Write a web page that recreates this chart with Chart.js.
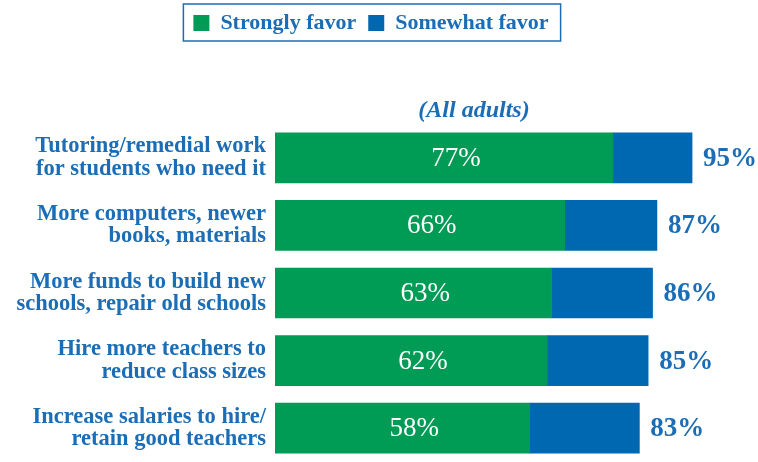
<!DOCTYPE html>
<html>
<head>
<meta charset="utf-8">
<script src="https://cdn.jsdelivr.net/npm/chart.js@4"></script>
<style>
  html, body { margin: 0; padding: 0; background: #fff; }
  #wrap { width: 758px; height: 462px; }
</style>
</head>
<body>
<div id="wrap"><canvas id="c" width="758" height="462"></canvas></div>
<script>
'use strict';

const categories = [
  ['Tutoring/remedial work', 'for students who need it'],
  ['More computers, newer', 'books, materials'],
  ['More funds to build new', 'schools, repair old schools'],
  ['Hire more teachers to', 'reduce class sizes'],
  ['Increase salaries to hire/', 'retain good teachers'],
];
const strongly = [77, 66, 63, 62, 58];
const somewhat = [18, 21, 23, 23, 25];
const seriesNames = ['Strongly favor', 'Somewhat favor'];
const subtitle = '(All adults)';

const C = {
  green: '#009b55',
  blue:  '#0067b1',
  text:  '#1b6db5',
};
const FONT = "'Liberation Serif', 'Times New Roman', serif";

// legend: taller box so the bars start lower, nudged right, framed
const legendBox = {
  id: 'legendBox',
  beforeInit(chart) {
    const fit = chart.legend.fit;
    chart.legend.fit = function () {
      fit.call(this);
      this.height = 124;
    };
  },
  afterUpdate(chart) {
    chart.legend.left += 28;
    chart.legend.adjustHitBoxes();
  },
  afterDraw(chart) {
    const boxes = chart.legend.legendHitBoxes;
    if (!boxes || !boxes.length) return;
    const first = boxes[0], last = boxes[boxes.length - 1];
    const ctx = chart.ctx;
    ctx.save();
    ctx.strokeStyle = C.text;
    ctx.lineWidth = 1.5;
    ctx.strokeRect(first.left - 10, 4, last.left + last.width - first.left + 22, 37);
    ctx.restore();
  },
};

// percent labels: share inside the green bar, total after the bar
const valueLabels = {
  id: 'valueLabels',
  afterDatasetsDraw(chart) {
    const ctx = chart.ctx;
    const x = chart.scales.x;
    const meta = chart.getDatasetMeta(0);
    ctx.save();
    ctx.textBaseline = 'middle';
    meta.data.forEach((bar, i) => {
      ctx.font = `27px ${FONT}`;
      ctx.fillStyle = '#fff';
      ctx.textAlign = 'center';
      ctx.fillText(strongly[i] + '%', (bar.x + bar.base) / 2 + 12, bar.y + 1);
      const total = strongly[i] + somewhat[i];
      ctx.font = `bold 27px ${FONT}`;
      ctx.fillStyle = C.text;
      ctx.textAlign = 'left';
      ctx.fillText(total + '%', x.getPixelForValue(total) + 11, bar.y + 1);
    });
    // subtitle above the bars
    const a = chart.chartArea;
    ctx.font = `italic bold 24px ${FONT}`;
    ctx.fillStyle = C.text;
    ctx.textAlign = 'center';
    ctx.fillText(subtitle, a.left + 199, a.top - 13);
    ctx.restore();
  },
};

new Chart(document.getElementById('c'), {
  type: 'bar',
  data: {
    labels: categories,
    datasets: [
      { label: seriesNames[0], data: strongly, backgroundColor: C.green },
      { label: seriesNames[1], data: somewhat, backgroundColor: C.blue },
    ],
  },
  options: {
    indexAxis: 'y',
    responsive: false,
    animation: false,
    layout: { padding: { right: 44 } },
    datasets: { bar: { barThickness: 50, borderWidth: 0 } },
    plugins: {
      legend: {
        position: 'top',
        labels: {
          color: C.text,
          font: { family: FONT, size: 22, weight: 'bold' },
          boxWidth: 16,
          boxHeight: 16,
          padding: 12,
        },
      },
      tooltip: { enabled: false },
    },
    scales: {
      x: {
        stacked: true,
        min: 0,
        max: 100,
        display: false,
      },
      y: {
        stacked: true,
        grid: { display: false, drawTicks: false },
        border: { display: false },
        afterFit(scale) {
          scale.width = 275;
          scale.paddingTop = 0;
          scale.paddingBottom = 0;
        },
        ticks: {
          color: C.text,
          padding: 9,
          font: { family: FONT, size: 22.5, weight: 'bold', lineHeight: 1.0 },
        },
      },
    },
  },
  plugins: [legendBox, valueLabels],
});
</script>
</body>
</html>
